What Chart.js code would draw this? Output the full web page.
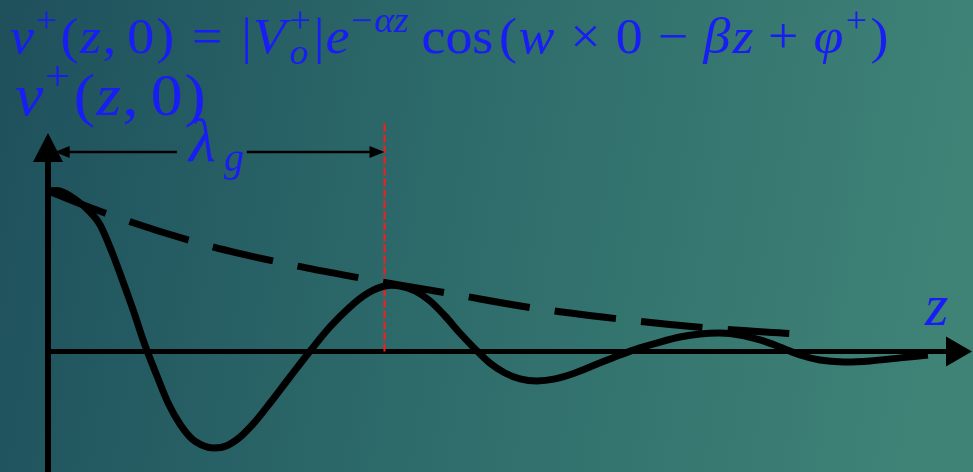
<!DOCTYPE html>
<html>
<head>
<meta charset="utf-8">
<title>Forward voltage wave at t = 0</title>
<script src="https://cdn.jsdelivr.net/npm/chart.js"></script>
<style>
  html, body { margin: 0; padding: 0; overflow: hidden; }
  #box { width: 973px; height: 472px; }
</style>
</head>
<body>
<div id="box"><canvas id="waveChart"></canvas></div>
<script>
// z in units of the guide wavelength, v normalised to |Vo+|
const zWave = [0, 0.036, 0.080, 0.125, 0.155, 0.190, 0.220, 0.253, 0.288, 0.324, 0.357, 0.392, 0.428,
  0.464, 0.493, 0.529, 0.571, 0.615, 0.660, 0.719, 0.779, 0.838, 0.897, 0.951, 1.001, 1.046, 1.091,
  1.135, 1.180, 1.224, 1.269, 1.313, 1.358, 1.403, 1.453, 1.507, 1.566, 1.632, 1.700, 1.759, 1.819,
  1.878, 1.938, 1.997, 2.056, 2.116, 2.175, 2.235, 2.294, 2.363, 2.443, 2.532, 2.615];
const vWave = [1.000, 1.000, 0.950, 0.869, 0.788, 0.620, 0.452, 0.259, 0.040, -0.153, -0.321, -0.452, -0.545,
  -0.589, -0.601, -0.589, -0.533, -0.439, -0.321, -0.159, 0.003, 0.153, 0.277, 0.364, 0.408, 0.408, 0.377,
  0.315, 0.221, 0.115, 0.016, -0.072, -0.134, -0.171, -0.184, -0.171, -0.134, -0.078, -0.022, 0.022, 0.059,
  0.090, 0.109, 0.115, 0.103, 0.072, 0.028, -0.022, -0.053, -0.065, -0.059, -0.040, -0.022];

// decaying envelope |Vo+| e^(-alpha z)
const zEnv = [0, 0.169, 0.416, 0.669, 0.927, 1.186, 1.442, 1.700, 1.965, 2.226];
const vEnv = [1.0, 0.863, 0.695, 0.564, 0.458, 0.364, 0.271, 0.202, 0.146, 0.109];

// one wavelength marker
const zMark = [1, 1];
const vMark = [0, 1.43];

// axis extents and the lambda_g dimension line
const zAxisEnd = 2.746;
const vAxisTop = 1.361;
const vAxisBottom = -0.751;
const dimV = 1.243;
const dimSpan = [0.02, 0.383, 0.591, 1.0];

const BLUE = 'rgb(24, 28, 245)';
const SERIF = '"Liberation Serif", "DejaVu Serif", serif';

const toPts = (xs, ys) => xs.map((x, i) => ({ x: x, y: ys[i] }));

function arrowHead(ctx, tipX, tipY, dx, dy, len, half) {
  // dx,dy: unit direction the arrow points to
  const bx = tipX - dx * len, by = tipY - dy * len;
  ctx.beginPath();
  ctx.moveTo(tipX, tipY);
  ctx.lineTo(bx - dy * half, by + dx * half);
  ctx.lineTo(bx + dy * half, by - dx * half);
  ctx.closePath();
  ctx.fill();
}

const fontFor = (italic, px) => (italic ? 'italic ' : '') + px + 'px ' + SERIF;

// lays out a run of math pieces and draws it across a given width
function drawMath(ctx, items, x0, base, size, targetW) {
  let x = 0, lastStart = 0;
  const placed = [];
  items.forEach(it => {
    const fs = size * (it.s || 1);
    ctx.font = fontFor(it.i, fs);
    const w = ctx.measureText(it.t).width;
    let px;
    if (it.under) {
      px = lastStart;
      x = Math.max(x, px + w);
    } else {
      px = x + (it.g || 0) * size;
      x = px + w;
      lastStart = px;
    }
    placed.push({ it: it, fs: fs, px: px });
  });
  const sx = targetW ? targetW / x : 1;
  const glyph = Math.sqrt(sx);
  ctx.fillStyle = BLUE;
  ctx.textBaseline = 'alphabetic';
  ctx.textAlign = 'left';
  placed.forEach(p => {
    ctx.save();
    ctx.font = fontFor(p.it.i, p.fs);
    ctx.translate(x0 + p.px * sx, base + (p.it.dy || 0) * size);
    ctx.scale(glyph, 1);
    ctx.fillText(p.it.t, 0, 0);
    ctx.restore();
  });
}

const sup = (t, extra) => Object.assign({ t: t, s: 0.7, dy: -0.42 }, extra || {});

const formula = [
  { t: 'v', i: true }, sup('+'), { t: '(', g: 0.03 }, { t: 'z', i: true }, { t: ',' },
  { t: '0', g: 0.17 }, { t: ')' }, { t: '=', g: 0.28 }, { t: '|', g: 0.28 },
  { t: 'V', i: true }, sup('+', { g: 0.02 }), { t: 'o', i: true, s: 0.7, dy: 0.22, under: true },
  { t: '|', g: 0.02 }, { t: 'e', i: true }, sup('\u2212'), sup('\u03b1z', { i: true }),
  { t: 'cos', g: 0.17 }, { t: '(' }, { t: 'w', i: true }, { t: '\u00d7', g: 0.22 },
  { t: '0', g: 0.22 }, { t: '\u2212', g: 0.22 }, { t: '\u03b2', i: true, g: 0.22 }, { t: 'z', i: true },
  { t: '+', g: 0.22 }, { t: '\u03c6', i: true, g: 0.22 }, sup('+'), { t: ')', g: 0.03 }
];
const vLabel = [
  { t: 'v', i: true }, sup('+'), { t: '(', g: 0.03 }, { t: 'z', i: true }, { t: ',' },
  { t: '0', g: 0.17 }, { t: ')' }
];

const backdrop = {
  id: 'backdrop',
  beforeDraw(chart) {
    const ctx = chart.ctx, w = chart.width, h = chart.height;
    const g = ctx.createLinearGradient(0, 0, w, h * 0.35);
    g.addColorStop(0, '#1e505c');
    g.addColorStop(0.5, '#2e6c6b');
    g.addColorStop(1, '#3f8377');
    ctx.save();
    ctx.fillStyle = g;
    ctx.fillRect(0, 0, w, h);
    ctx.restore();
  }
};

const axes = {
  id: 'axes',
  beforeDatasetsDraw(chart) {
    const ctx = chart.ctx, xs = chart.scales.x, ys = chart.scales.y;
    const x0 = xs.getPixelForValue(0), y0 = ys.getPixelForValue(0);
    const xEnd = xs.getPixelForValue(zAxisEnd);
    const yTop = ys.getPixelForValue(vAxisTop), yBot = ys.getPixelForValue(vAxisBottom);
    ctx.save();
    ctx.strokeStyle = '#000';
    ctx.fillStyle = '#000';
    // z axis
    ctx.lineWidth = 5;
    ctx.beginPath();
    ctx.moveTo(x0, y0);
    ctx.lineTo(xEnd - 20, y0);
    ctx.stroke();
    arrowHead(ctx, xEnd, y0, 1, 0, 26, 15);
    // v axis
    ctx.lineWidth = 6;
    ctx.beginPath();
    ctx.moveTo(x0, yBot);
    ctx.lineTo(x0, yTop + 20);
    ctx.stroke();
    arrowHead(ctx, x0, yTop, 0, -1, 29, 15);
    ctx.restore();
  },
  afterDatasetsDraw(chart) {
    const ctx = chart.ctx, xs = chart.scales.x, ys = chart.scales.y;
    const yd = ys.getPixelForValue(dimV);
    const p = dimSpan.map(v => xs.getPixelForValue(v));
    ctx.save();
    ctx.strokeStyle = '#000';
    ctx.fillStyle = '#000';
    ctx.lineWidth = 2.5;
    ctx.beginPath();
    ctx.moveTo(p[0] + 10, yd);
    ctx.lineTo(p[1], yd);
    ctx.moveTo(p[2], yd);
    ctx.lineTo(p[3] - 10, yd);
    ctx.stroke();
    arrowHead(ctx, p[0], yd, -1, 0, 15, 6);
    arrowHead(ctx, p[3], yd, 1, 0, 15, 6);

    // labels
    drawMath(ctx, formula, 10, 53, 50, 880);
    drawMath(ctx, vLabel, 15, 115, 60, 192);
    ctx.fillStyle = BLUE;
    ctx.font = fontFor(true, 62);
    ctx.fillText('\u03bb', 189, 161);
    ctx.font = fontFor(true, 40);
    ctx.fillText('g', 224, 171);
    ctx.font = fontFor(true, 60);
    ctx.fillText('z', 925, 325);
    ctx.restore();
  }
};

new Chart(document.getElementById('waveChart'), {
  type: 'line',
  data: {
    datasets: [
      {
        label: 'v+(z,0)',
        data: toPts(zWave, vWave),
        borderColor: '#000',
        borderWidth: 7,
        tension: 0.3,
        pointRadius: 0
      },
      {
        label: 'envelope',
        data: toPts(zEnv, vEnv),
        borderColor: '#000',
        borderWidth: 7,
        borderDash: [62, 25],
        tension: 0.4,
        pointRadius: 0
      },
      {
        label: 'lambda_g',
        data: toPts(zMark, vMark),
        borderColor: '#ff1a1a',
        borderWidth: 2,
        borderDash: [8, 3],
        pointRadius: 0
      }
    ]
  },
  options: {
    responsive: true,
    maintainAspectRatio: false,
    animation: false,
    layout: { padding: 0 },
    plugins: { legend: { display: false }, tooltip: { enabled: false } },
    scales: {
      x: { type: 'linear', display: false, min: -0.1426, max: 2.749 },
      y: { type: 'linear', display: false, min: -0.751, max: 2.19 }
    }
  },
  plugins: [backdrop, axes]
});
</script>
</body>
</html>
